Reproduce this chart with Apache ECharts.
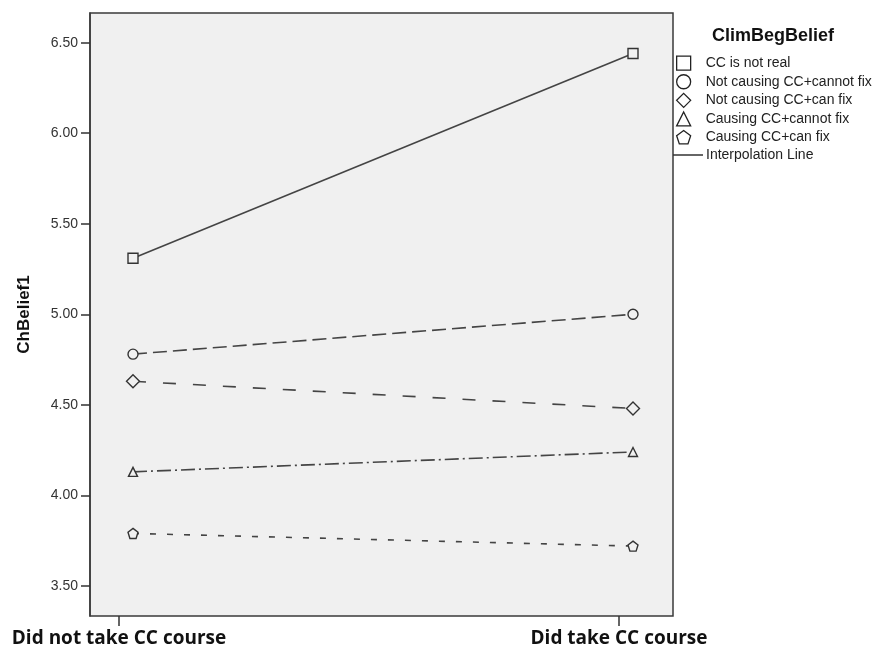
<!DOCTYPE html>
<html>
<head>
<meta charset="utf-8">
<script src="https://cdn.jsdelivr.net/npm/echarts@6/dist/echarts.min.js"></script>
<style>html,body{margin:0;padding:0;background:#fff}#c{width:892px;height:660px}</style>
</head>
<body>
<div id="c"></div>
<script>
const categories = ['Did not take CC course', 'Did take CC course'];
const groupNames = ['CC is not real', 'Not causing CC+cannot fix', 'Not causing CC+can fix', 'Causing CC+cannot fix', 'Causing CC+can fix'];
const ccNotReal = [5.31, 6.44];
const notCausingCannotFix = [4.78, 5.00];
const notCausingCanFix = [4.63, 4.48];
const causingCannotFix = [4.13, 4.24];
const causingCanFix = [3.79, 3.72];
const yTicks = [3.5, 4.0, 4.5, 5.0, 5.5, 6.0, 6.5];

const pentagon = 'path://M0,-1 L0.951,-0.309 L0.588,0.809 L-0.588,0.809 L-0.951,-0.309 Z';
const seriesValues = [ccNotReal, notCausingCannotFix, notCausingCanFix, causingCannotFix, causingCanFix];
const symbols = ['rect', 'circle', 'diamond', 'triangle', pentagon];
const symbolSizes = [10, 10, 13, 9, 10];
const dashes = ['solid', [14, 6], [13, 17], [14, 4, 2, 4], [6, 11]];

const series = seriesValues.map((vals, k) => ({
  name: groupNames[k],
  type: 'line',
  xAxisIndex: 0, yAxisIndex: 0,
  data: vals.map((v, i) => [i, v]),
  symbol: symbols[k],
  symbolSize: symbolSizes[k],
  showSymbol: true,
  itemStyle: { color: '#f0f0f0', borderColor: '#333', borderWidth: 1.4 },
  lineStyle: { color: '#444', width: 1.6, type: dashes[k] },
  emphasis: { disabled: true },
  z: 3
}));
series.push({
  name: 'Interpolation Line', type: 'line', xAxisIndex: 0, yAxisIndex: 0,
  data: [], symbol: 'none', itemStyle: { color: '#333' }, lineStyle: { color: '#333', width: 1.3 }
});

const chart = echarts.init(document.getElementById('c'), null, { renderer: 'canvas' });
chart.setOption({
  animation: false,
  backgroundColor: '#fff',
  title: {
    text: 'ClimBegBelief', left: 707, top: 22,
    textStyle: { fontFamily: 'Arial, Liberation Sans', fontWeight: 'bold', fontSize: 18, color: '#111' }
  },
  legend: [{
    orient: 'vertical', left: 676, top: 55.5, padding: 0,
    itemWidth: 14, itemHeight: 14, itemGap: 3.3,
    selectedMode: false,
    data: groupNames.map((n, k) => ({ name: n, icon: symbols[k] })),
    itemStyle: { color: '#fff', borderColor: '#222', borderWidth: 1.3 },
    textStyle: { fontFamily: 'Arial, Liberation Sans', fontSize: 14, lineHeight: 14, color: '#222', padding: [0, 0, 0, 10] }
  }, {
    orient: 'vertical', left: 673, top: 148, padding: 0,
    itemWidth: 30, itemHeight: 1.5,
    selectedMode: false,
    data: [{ name: 'Interpolation Line', icon: 'rect' }],
    itemStyle: { color: '#333', borderWidth: 0 },
    textStyle: { fontFamily: 'Arial, Liberation Sans', fontSize: 14, lineHeight: 14, color: '#222', padding: [0, 0, 0, -2] }
  }],
  grid: [
    { left: 90, right: 219, top: 13, bottom: 44, show: true, backgroundColor: '#f0f0f0', borderColor: '#3a3a3a', borderWidth: 1.5 },
    { left: 119, width: 500, top: 13, bottom: 44 }
  ],
  xAxis: [
    { type: 'value', gridIndex: 0, min: -0.086, max: 1.08, show: false },
    {
      type: 'category', gridIndex: 1, data: categories, boundaryGap: false,
      axisLine: { show: false },
      axisTick: { show: true, length: 10, lineStyle: { color: '#333', width: 1.5 } },
      axisLabel: { margin: 13, fontFamily: 'Open Sans, Arial', fontWeight: 'bold', fontSize: 19, color: '#111' }
    }
  ],
  yAxis: [
    {
      type: 'value', gridIndex: 0, min: 3.334, max: 6.664,
      name: 'ChBelief1', nameLocation: 'middle', nameGap: 57,
      nameTextStyle: { fontFamily: 'Arial, Liberation Sans', fontWeight: 'bold', fontSize: 17, color: '#111' },
      axisLine: { show: true, onZero: false, lineStyle: { color: '#3a3a3a', width: 1.5 } },
      axisTick: { show: true, length: 9, customValues: yTicks, lineStyle: { color: '#333', width: 1.5 } },
      axisLabel: { customValues: yTicks, margin: 12, fontFamily: 'Arial, Liberation Sans', fontSize: 14, color: '#333', formatter: v => v.toFixed(2) },
      splitLine: { show: false }
    },
    { type: 'value', gridIndex: 1, show: false }
  ],
  series: series
});
</script>
</body>
</html>
